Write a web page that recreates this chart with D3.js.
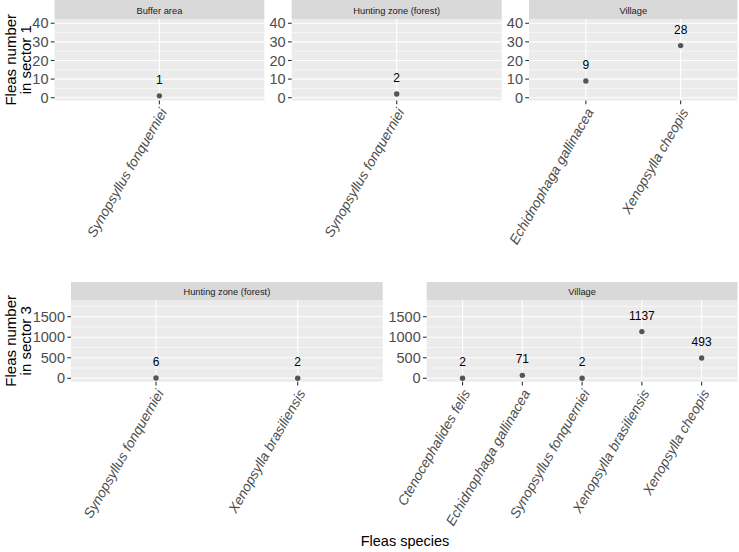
<!DOCTYPE html>
<html lang="en">
<head>
<meta charset="UTF-8"/>
<title>Fleas per species</title>
<script src="https://cdn.jsdelivr.net/npm/d3@7"></script>
<style>
body { margin: 0; background: #fff; }
svg { display: block; font-family: "Liberation Sans", Arial, sans-serif; }
.strip text { font-size: 9.3px; fill: #1a1a1a; }
.ytick text { font-size: 14.5px; fill: #4d4d4d; }
.xtick text { font-size: 13.8px; fill: #4d4d4d; font-style: italic; }
.val { font-size: 12px; fill: #000; }
.title { font-size: 15px; fill: #000; }
</style>
</head>
<body>
<svg id="chart" width="739" height="552"></svg>
<script>
// sector 1 (top row)
var sector1Zones = ["Buffer area", "Hunting zone (forest)", "Village"];
var sector1Species = [
  ["Synopsyllus fonquerniei"],
  ["Synopsyllus fonquerniei"],
  ["Echidnophaga gallinacea", "Xenopsylla cheopis"]
];
var sector1Counts = [[1], [2], [9, 28]];
var sector1Ticks = [0, 10, 20, 30, 40];

// sector 3 (bottom row)
var sector3Zones = ["Hunting zone (forest)", "Village"];
var sector3Species = [
  ["Synopsyllus fonquerniei", "Xenopsylla brasiliensis"],
  ["Ctenocephalides felis", "Echidnophaga gallinacea", "Synopsyllus fonquerniei",
   "Xenopsylla brasiliensis", "Xenopsylla cheopis"]
];
var sector3Counts = [[6, 2], [2, 71, 2, 1137, 493]];
var sector3Ticks = [0, 500, 1000, 1500];

var svg = d3.select("#chart");

// layout of the two rows of facets
var rows = [
  {
    zones: sector1Zones, species: sector1Species, counts: sector1Counts, ticks: sector1Ticks,
    domain: [-1.5, 42.3], stripTop: 0, top: 19, bottom: 100.5,
    panels: [[54.5, 264.3], [291.7, 501.7], [529, 737.5]],
    title: ["Fleas number", "in sector 1"]
  },
  {
    zones: sector3Zones, species: sector3Species, counts: sector3Counts, ticks: sector3Ticks,
    domain: [-83, 1906], stripTop: 282, top: 300, bottom: 381.7,
    panels: [[71, 382.7], [426.7, 737.5]],
    title: ["Fleas number", "in sector 3"]
  }
];

rows.forEach(function(row) {
  var y = d3.scaleLinear().domain(row.domain).range([row.bottom, row.top]);
  var step = row.ticks[1] - row.ticks[0];
  var minor = d3.range(row.ticks[0] - step / 2, row.domain[1], step)
    .filter(function(v) { return v > row.domain[0] && v < row.domain[1]; });

  row.zones.forEach(function(zone, i) {
    var x0 = row.panels[i][0], x1 = row.panels[i][1];
    var x = d3.scalePoint().domain(row.species[i]).range([x0, x1]).padding(0.6);
    var g = svg.append("g");

    // strip
    var strip = g.append("g").attr("class", "strip");
    strip.append("rect")
      .attr("x", x0).attr("y", row.stripTop)
      .attr("width", x1 - x0).attr("height", row.top - row.stripTop)
      .attr("fill", "#d9d9d9");
    strip.append("text")
      .attr("x", (x0 + x1) / 2).attr("y", (row.stripTop + row.top) / 2 + 1)
      .attr("dy", "0.35em").attr("text-anchor", "middle")
      .text(zone);

    // panel background + grid
    g.append("rect")
      .attr("x", x0).attr("y", row.top)
      .attr("width", x1 - x0).attr("height", row.bottom - row.top)
      .attr("fill", "#ebebeb");
    g.selectAll(".minor").data(minor).enter().append("line")
      .attr("x1", x0).attr("x2", x1)
      .attr("y1", function(d) { return y(d); }).attr("y2", function(d) { return y(d); })
      .attr("stroke", "#fff").attr("stroke-width", 0.55);
    g.selectAll(".major").data(row.ticks).enter().append("line")
      .attr("x1", x0).attr("x2", x1)
      .attr("y1", function(d) { return y(d); }).attr("y2", function(d) { return y(d); })
      .attr("stroke", "#fff").attr("stroke-width", 1.1);
    g.selectAll(".vmajor").data(row.species[i]).enter().append("line")
      .attr("x1", function(d) { return x(d); }).attr("x2", function(d) { return x(d); })
      .attr("y1", row.top).attr("y2", row.bottom)
      .attr("stroke", "#fff").attr("stroke-width", 1.1);

    // y axis
    var yt = g.selectAll(".ytick").data(row.ticks).enter().append("g")
      .attr("class", "ytick")
      .attr("transform", function(d) { return "translate(" + x0 + "," + y(d) + ")"; });
    yt.append("line").attr("x1", -3.7).attr("x2", 0).attr("stroke", "#333").attr("stroke-width", 1.1);
    yt.append("text").attr("x", -6).attr("dy", "0.35em").attr("text-anchor", "end")
      .text(function(d) { return d; });

    // x axis
    var xt = g.selectAll(".xtick").data(row.species[i]).enter().append("g")
      .attr("class", "xtick")
      .attr("transform", function(d) { return "translate(" + x(d) + "," + row.bottom + ")"; });
    xt.append("line").attr("y1", 0).attr("y2", 3.7).attr("stroke", "#333").attr("stroke-width", 1.1);
    xt.append("text")
      .attr("transform", "translate(4,9) rotate(-60)")
      .attr("dy", "0.35em").attr("text-anchor", "end")
      .text(function(d) { return d; });

    // points and value labels
    var pts = row.species[i].map(function(s, k) { return {sp: s, n: row.counts[i][k]}; });
    g.selectAll(".pt").data(pts).enter().append("circle")
      .attr("cx", function(d) { return x(d.sp); })
      .attr("cy", function(d) { return y(d.n); })
      .attr("r", 2.7).attr("fill", "#555");
    g.selectAll(".val").data(pts).enter().append("text")
      .attr("class", "val")
      .attr("x", function(d) { return x(d.sp); })
      .attr("y", function(d) { return y(d.n) - 12; })
      .attr("text-anchor", "middle")
      .text(function(d) { return d.n; });
  });

  // y title
  var cy = (row.top + row.bottom) / 2;
  row.title.forEach(function(t, k) {
    svg.append("text").attr("class", "title")
      .attr("transform", "translate(" + (16 + 14.5 * k) + "," + cy + ") rotate(-90)")
      .attr("text-anchor", "middle")
      .text(t);
  });
});

svg.append("text").attr("class", "title")
  .attr("x", 405).attr("y", 546)
  .attr("text-anchor", "middle")
  .style("font-size", "14.5px")
  .text("Fleas species");
</script>
</body>
</html>
